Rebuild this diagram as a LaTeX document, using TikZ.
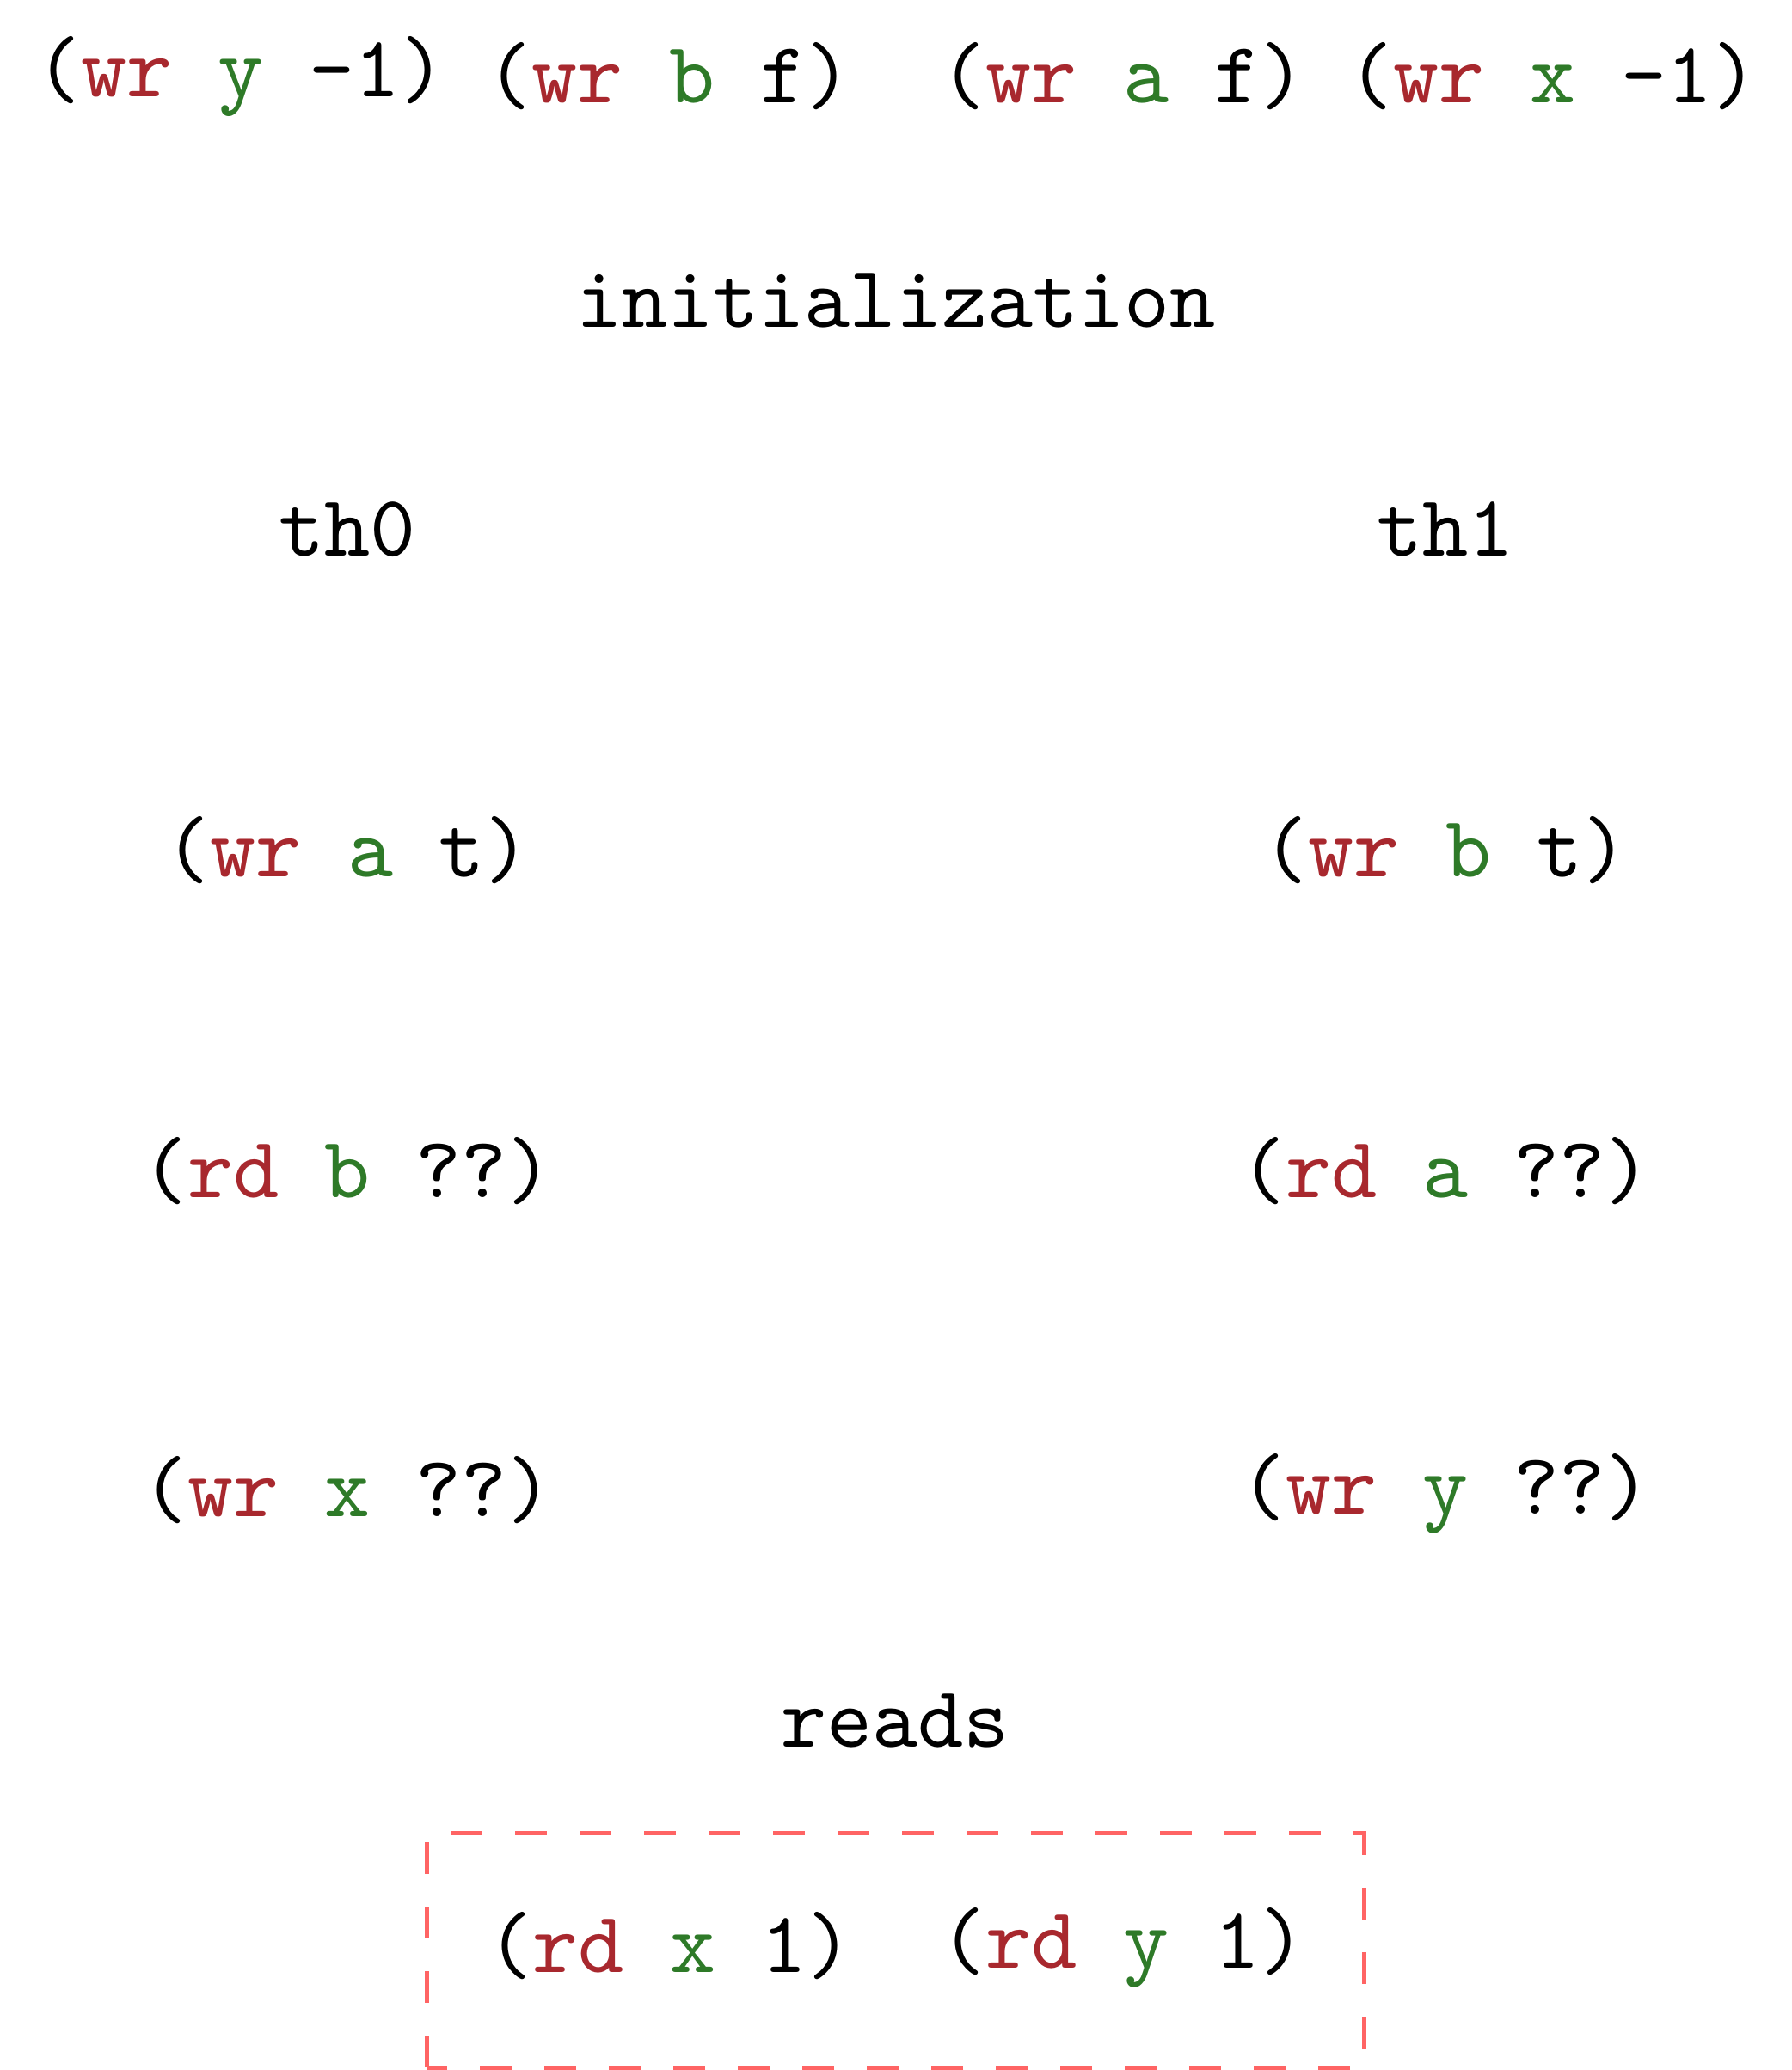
\documentclass[tikz,border=0pt]{standalone}
\usepackage{xcolor}
\definecolor{opred}{RGB}{168,40,46}
\definecolor{opgreen}{RGB}{46,122,40}
\definecolor{boxred}{RGB}{255,100,100}
\newcommand{\opkw}[1]{\textcolor{opred}{#1}}
\newcommand{\opvar}[1]{\textcolor{opgreen}{#1}}
\tikzset{
  instr/.style={inner sep=0pt, anchor=base, font=\fontsize{10.1}{12}\ttfamily},
  label/.style={inner sep=0pt, anchor=base, font=\fontsize{10.1}{12}\ttfamily},
  readbox/.style={draw=boxred, line width=0.5pt, dash pattern=on 3.7pt off 3.8pt}
}
\begin{document}
\begin{tikzpicture}[x=1pt,y=1pt]
  \useasboundingbox (0,0) rectangle (208.4,240.7);

  % initial writes
  \node[instr] (iy) at (28.0,229.4) {(\opkw{wr} \opvar{y} -1)};
  \node[instr] (ib) at (77.8,228.7) {(\opkw{wr} \opvar{b} f)};
  \node[instr] (ia) at (130.6,228.7) {(\opkw{wr} \opvar{a} f)};
  \node[instr] (ix) at (180.6,228.7) {(\opkw{wr} \opvar{x} -1)};
  \node[label] (init) at (104.2,202.6) {initialization};

  % threads
  \node[label] (th0) at (40.4,176.0) {th0};
  \node[label] (th1) at (168.1,176.0) {th1};

  \node[instr] (t0a) at (40.4,138.7) {(\opkw{wr} \opvar{a} t)};
  \node[instr] (t0b) at (40.4,101.4) {(\opkw{rd} \opvar{b} ??)};
  \node[instr] (t0c) at (40.4,64.3) {(\opkw{wr} \opvar{x} ??)};

  \node[instr] (t1a) at (168.1,138.7) {(\opkw{wr} \opvar{b} t)};
  \node[instr] (t1b) at (168.1,101.4) {(\opkw{rd} \opvar{a} ??)};
  \node[instr] (t1c) at (168.1,64.6) {(\opkw{wr} \opvar{y} ??)};

  % final reads
  \node[label] (reads) at (104.1,37.5) {reads};
  \node[instr] (rx) at (77.9,11.3) {(\opkw{rd} \opvar{x} 1)};
  \node[instr] (ry) at (130.6,11.8) {(\opkw{rd} \opvar{y} 1)};
  \draw[readbox] (49.6,0.3) rectangle (158.6,27.5);
\end{tikzpicture}
\end{document}
